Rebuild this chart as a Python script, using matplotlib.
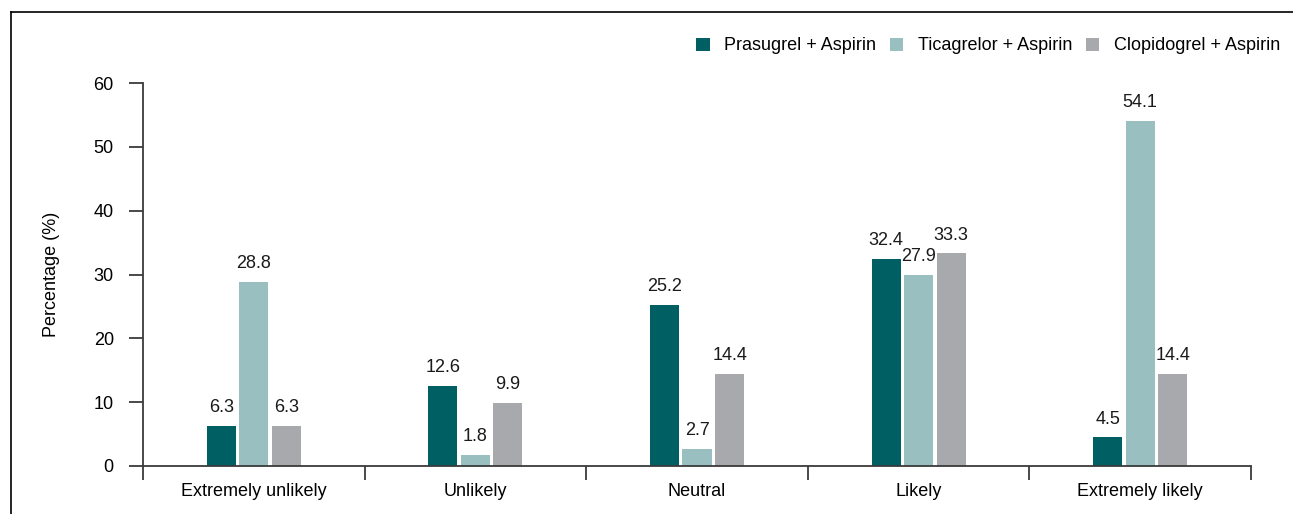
import matplotlib.pyplot as plt
from matplotlib.lines import Line2D
import numpy as np

plt.rcParams['font.family'] = ['Liberation Sans', 'DejaVu Sans']

# data
kategorien = ['Extremely unlikely', 'Unlikely', 'Neutral', 'Likely', 'Extremely likely']
serien = ['Prasugrel + Aspirin', 'Ticagrelor + Aspirin', 'Clopidogrel + Aspirin']
prasugrel = [6.3, 12.6, 25.2, 32.4, 4.5]
ticagrelor = [28.8, 1.8, 2.7, 30.0, 54.1]   # Likely bar is drawn at ~30 in the source
clopidogrel = [6.3, 9.9, 14.4, 33.3, 14.4]
prasugrel_txt = ['6.3', '12.6', '25.2', '32.4', '4.5']
ticagrelor_txt = ['28.8', '1.8', '2.7', '27.9', '54.1']
clopidogrel_txt = ['6.3', '9.9', '14.4', '33.3', '14.4']
farben = ['#005F62', '#99BFC0', '#A8A9AD']
yticks = [0, 10, 20, 30, 40, 50, 60]

fs = 13

fig = plt.figure(figsize=(12.93, 5.14), dpi=100)
ax = fig.add_axes([143 / 1293, 1 - 466 / 514, 1108 / 1293, 383 / 514])

x = np.arange(len(kategorien)) + 0.5
breite = 0.131
abstand = 0.147
achsfarbe = '#3a3a3a'

for i, (werte, texte) in enumerate([(prasugrel, prasugrel_txt),
                                    (ticagrelor, ticagrelor_txt),
                                    (clopidogrel, clopidogrel_txt)]):
    pos = x + (i - 1) * abstand
    ax.bar(pos, werte, breite, color=farben[i], label=serien[i])
    for p, w, t in zip(pos, werte, texte):
        ax.annotate(t, (p, w), xytext=(0, 7), textcoords='offset points',
                    ha='center', va='bottom', fontsize=fs, color='#1a1a1a')

ax.set_xlim(0, len(kategorien))
ax.set_ylim(0, 60)
ax.set_yticks(yticks)
ax.tick_params(axis='y', length=10, width=1.3, color=achsfarbe, pad=11, labelsize=fs)

# category boundaries as major ticks, names at centres as minor ticks
ax.set_xticks(np.arange(len(kategorien) + 1))
ax.set_xticklabels([])
ax.set_xticks(x, minor=True)
ax.set_xticklabels(kategorien, minor=True)
ax.tick_params(axis='x', which='major', length=10, width=1.3, color=achsfarbe, direction='out')
ax.tick_params(axis='x', which='minor', length=0, pad=12, labelsize=fs)

for s in ['top', 'right']:
    ax.spines[s].set_visible(False)
for s in ['left', 'bottom']:
    ax.spines[s].set_color(achsfarbe)
    ax.spines[s].set_linewidth(1.3)

ax.set_ylabel('Percentage (%)', fontsize=fs)
ax.yaxis.set_label_coords(-0.075, 0.5)

fig.legend(loc='center right', bbox_to_anchor=(0.99, 1 - 46 / 514), ncol=3, frameon=False,
           fontsize=fs, handlelength=0.75, handleheight=0.75, handletextpad=0.8,
           columnspacing=0.75, borderpad=0, borderaxespad=0)

# partial frame (top and left edge)
fig.add_artist(Line2D([11 / 1293, 1], [1 - 12 / 514, 1 - 12 / 514], color='black', lw=1.2))
fig.add_artist(Line2D([11 / 1293, 11 / 1293], [0, 1 - 12 / 514], color='black', lw=1.2))

plt.savefig('out.png', dpi=100)
